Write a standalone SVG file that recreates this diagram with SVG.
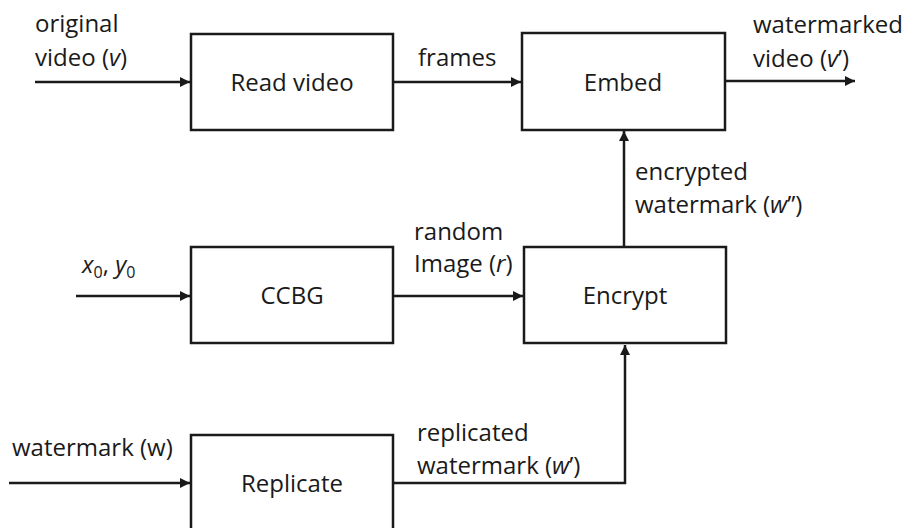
<svg xmlns="http://www.w3.org/2000/svg" width="907" height="528" viewBox="0 0 907 528">
<style>
text{font-family:"Open Sans","Liberation Sans",sans-serif;font-size:24px;fill:#1a1a1a}
.box{fill:#fff;stroke:#1a1a1a;stroke-width:2.5}
.c{text-anchor:middle}
.ln{fill:none;stroke:#1a1a1a;stroke-width:2.5}
.i{font-style:italic}
</style>
<defs>
<marker id="ah" viewBox="0 0 10 10" refX="10" refY="5" markerWidth="4" markerHeight="4" orient="auto" markerUnits="strokeWidth">
<path d="M0,0 L10,5 L0,10 z" fill="#1a1a1a"/>
</marker>
</defs>
<rect width="907" height="528" fill="#fff"/>
<g id="connectors">
<path class="ln" d="M35,82 H190" marker-end="url(#ah)"/>
<path class="ln" d="M393,82 H521" marker-end="url(#ah)"/>
<path class="ln" d="M725,81 H855" marker-end="url(#ah)"/>
<path class="ln" d="M624,247 V131" marker-end="url(#ah)"/>
<path class="ln" d="M76,296 H190" marker-end="url(#ah)"/>
<path class="ln" d="M393,296 H523" marker-end="url(#ah)"/>
<path class="ln" d="M9,483 H190" marker-end="url(#ah)"/>
<path class="ln" d="M393,483 H625 V345" marker-end="url(#ah)"/>
<text x="35" y="32">original</text>
<text x="35" y="66">video (<tspan class="i">v</tspan>)</text>
<text x="418" y="66">frames</text>
<text x="753" y="33">watermarked</text>
<text x="753" y="67">video (<tspan class="i">v</tspan>’)</text>
<text x="635" y="180">encrypted</text>
<text x="635" y="213">watermark (<tspan class="i">w</tspan>’’)</text>
<text x="82" y="273"><tspan class="i">x</tspan><tspan font-size="16" dy="5">0</tspan><tspan dy="-5">, </tspan><tspan class="i">y</tspan><tspan font-size="16" dy="5">0</tspan></text>
<text x="414" y="240">random</text>
<text x="414" y="272">Image (<tspan class="i">r</tspan>)</text>
<text x="12" y="456">watermark (w)</text>
<text x="417" y="441">replicated</text>
<text x="417" y="474">watermark (<tspan class="i">w</tspan>’)</text>
</g>
<g id="read">
<rect class="box" x="191" y="34" width="202" height="96"/>
<text class="c" x="292" y="91">Read video</text>
</g>
<g id="embed">
<rect class="box" x="522" y="33" width="203" height="97"/>
<text class="c" x="623" y="91">Embed</text>
</g>
<g id="ccbg">
<rect class="box" x="191" y="247" width="202" height="96"/>
<text class="c" x="292" y="304">CCBG</text>
</g>
<g id="encrypt">
<rect class="box" x="524" y="247" width="202" height="96"/>
<text class="c" x="625" y="304">Encrypt</text>
</g>
<g id="replicate">
<rect class="box" x="191" y="435" width="202" height="100"/>
<text class="c" x="292" y="492">Replicate</text>
</g>
</svg>
